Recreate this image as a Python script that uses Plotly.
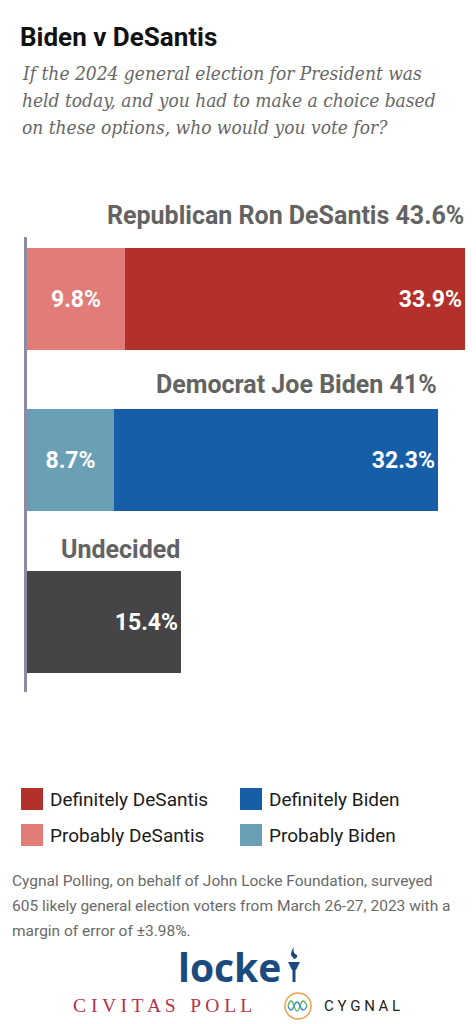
import plotly.graph_objects as go

# data
categories = ["DeSantis", "Biden", "Undecided"]
header_labels = ["Republican Ron DeSantis 43.6%", "Democrat Joe Biden 41%", "Undecided"]
probably = [9.8, 8.7, None]
definitely = [33.9, 32.3, None]
undecided = [None, None, 15.4]
legend_labels = ["Definitely DeSantis", "Definitely Biden", "Probably DeSantis", "Probably Biden"]
subtitle_lines = [
    "If the 2024 general election for President was",
    "held today, and you had to make a choice based",
    "on these options, who would you vote for?",
]
note_lines = [
    "Cygnal Polling, on behalf of John Locke Foundation, surveyed",
    "605 likely general election voters from March 26-27, 2023 with a",
    "margin of error of ±3.98%.",
]

# colours
RED = "#B3302B"
RED_L = "#E17C79"
BLUE = "#175EA9"
BLUE_L = "#6B9FB6"
GREY = "#454547"
TXT = "#636363"

HEAD = "Roboto, DejaVu Sans Condensed, sans-serif"
SERIF = "DejaVu Serif Condensed, DejaVu Serif, serif"

W, H = 476, 1024
ML, MR, MT, MB = 27, 0, 237, 332
PW = W - ML - MR
PH = H - MT - MB


def px(x):
    return (x - ML) / PW


def py(y):
    return (H - MB - y) / PH


def fmt(v):
    return "" if v is None else f"{v}%"


fig = go.Figure()

bar_font = dict(family=HEAD, size=23, color="white", weight="bold")
fig.add_trace(go.Bar(
    y=categories, x=probably, orientation="h",
    marker=dict(color=[RED_L, BLUE_L, "white"], line_width=0),
    text=[fmt(v) for v in probably], textposition="inside",
    insidetextanchor="middle", constraintext="none", textfont=bar_font,
    width=0.63, showlegend=False, hoverinfo="skip",
))
fig.add_trace(go.Bar(
    y=categories, x=definitely, orientation="h",
    marker=dict(color=[RED, BLUE, "white"], line_width=0),
    text=[fmt(v) for v in definitely], textposition="inside",
    insidetextanchor="end", constraintext="none", textfont=bar_font,
    width=0.63, showlegend=False, hoverinfo="skip",
))
fig.add_trace(go.Bar(
    y=categories, x=undecided, orientation="h",
    marker=dict(color=GREY, line_width=0),
    text=[fmt(v) for v in undecided], textposition="inside",
    insidetextanchor="end", constraintext="none", textfont=bar_font,
    width=0.63, showlegend=False, hoverinfo="skip",
))

# labels above each bar, right-aligned on the bar total
totals = [sum(v for v in vals if v is not None) for vals in zip(probably, definitely, undecided)]
shifts = [83, 76, 73]
annotations = []
for cat, lab, tot, sh in zip(categories, header_labels, totals, shifts):
    annotations.append(dict(
        x=tot, y=cat, xref="x", yref="y", text=lab, showarrow=False,
        xanchor="right", yanchor="middle", yshift=sh, xshift=1,
        font=dict(family=HEAD, size=25, color=TXT, weight="bold"),
    ))

# subtitle, one line at a time
for i, line in enumerate(subtitle_lines):
    annotations.append(dict(
        x=px(20), y=py(73 + 27 * i), xref="paper", yref="paper", xanchor="left", yanchor="middle",
        showarrow=False, text=f"<i>{line}</i>",
        font=dict(family=SERIF, size=19, color="#676767"),
    ))

# legend (drawn by hand, 2 x 2)
shapes = []
legend_colors = [RED, BLUE, RED_L, BLUE_L]
leg_pos = [(21, 799), (240, 799), (21, 835), (240, 835)]
for lab, col, (lx, ly) in zip(legend_labels, legend_colors, leg_pos):
    shapes.append(dict(type="rect", xref="paper", yref="paper",
                       x0=px(lx), x1=px(lx + 22), y0=py(ly - 11), y1=py(ly + 11),
                       fillcolor=col, line_width=0))
    annotations.append(dict(
        x=px(lx + 27), y=py(ly), xref="paper", yref="paper", xanchor="left", yanchor="middle",
        showarrow=False, text=lab, font=dict(family=HEAD, size=19, color="#1a1a1a"),
    ))

# footnote
for i, line in enumerate(note_lines):
    annotations.append(dict(
        x=px(10), y=py(881 + 25 * i), xref="paper", yref="paper", xanchor="left", yanchor="middle",
        showarrow=False, text=line,
        font=dict(family=HEAD, size=15.5, color="#6a6a6a"),
    ))

# logos
annotations.append(dict(
    x=px(229), y=py(966), xref="paper", yref="paper", xanchor="center", yanchor="middle",
    showarrow=False, text="locke",
    font=dict(family="Open Sans, Lato, sans-serif", size=39, color="#1B4A7E", weight="bold"),
))
annotations.append(dict(
    x=px(162), y=py(1005), xref="paper", yref="paper", xanchor="center", yanchor="middle",
    showarrow=False, text="C I V I T A S &nbsp; P O L L",
    font=dict(family="Liberation Serif, serif", size=19.5, color="#B5334C"),
))
annotations.append(dict(
    x=px(362), y=py(1006), xref="paper", yref="paper", xanchor="center", yanchor="middle",
    showarrow=False, text="C Y G N A L",
    font=dict(family="Roboto, sans-serif", size=15, color="#222222"),
))

# torch icon
shapes.append(dict(type="path", xref="paper", yref="paper",
                   path=f"M {px(288)},{py(962)} L {px(300)},{py(962)} L {px(296)},{py(970)} L {px(292)},{py(970)} Z",
                   fillcolor="#1B4A7E", line_width=0))
shapes.append(dict(type="rect", xref="paper", yref="paper",
                   x0=px(292.5), x1=px(295.5), y0=py(982), y1=py(970),
                   fillcolor="#1B4A7E", line_width=0))
shapes.append(dict(type="path", xref="paper", yref="paper",
                   path=f"M {px(294)},{py(959)} Q {px(288)},{py(954)} {px(294)},{py(947)} Q {px(292)},{py(953)} {px(297)},{py(955)} Q {px(298)},{py(958)} {px(294)},{py(959)} Z",
                   fillcolor="#1B4A7E", line_width=0))

# cygnal mark
shapes.append(dict(type="circle", xref="paper", yref="paper",
                   x0=px(285), x1=px(311), y0=py(1019), y1=py(993),
                   line=dict(color="#F2A04C", width=1.5), fillcolor="white"))
shapes.append(dict(type="path", xref="paper", yref="paper",
                   path=f"M {px(288)},{py(1006)} Q {px(291)},{py(996)} {px(294)},{py(1006)} Q {px(297)},{py(1016)} {px(300)},{py(1006)} Q {px(303)},{py(996)} {px(307)},{py(1006)}",
                   line=dict(color="#5DB65A", width=1.3)))
shapes.append(dict(type="path", xref="paper", yref="paper",
                   path=f"M {px(288)},{py(1006)} Q {px(291)},{py(1014)} {px(294)},{py(1006)} Q {px(297)},{py(998)} {px(300)},{py(1006)} Q {px(303)},{py(1014)} {px(307)},{py(1006)}",
                   line=dict(color="#3D8FD0", width=1.3)))

fig.update_layout(
    width=W, height=H,
    margin=dict(l=ML, r=MR, t=MT, b=MB, pad=0),
    paper_bgcolor="white", plot_bgcolor="white",
    barmode="stack", bargap=0,
    title=dict(text="<b>Biden v DeSantis</b>", x=20 / W, xref="container", xanchor="left",
               y=1 - 37 / H, yref="container", yanchor="middle",
               font=dict(family=HEAD, size=26, color="#111111")),
    xaxis=dict(range=[0, 44.8], visible=False, fixedrange=True),
    yaxis=dict(categoryorder="array", categoryarray=categories, range=[2.43, -0.38],
               showticklabels=False, ticks="", showgrid=False, zeroline=False,
               showline=True, linecolor="#8B8BA3", linewidth=3, fixedrange=True),
    annotations=annotations, shapes=shapes,
    showlegend=False,
)

fig.write_html("out.html", config={"displayModeBar": False},
               post_script="document.body.style.margin='0';")
